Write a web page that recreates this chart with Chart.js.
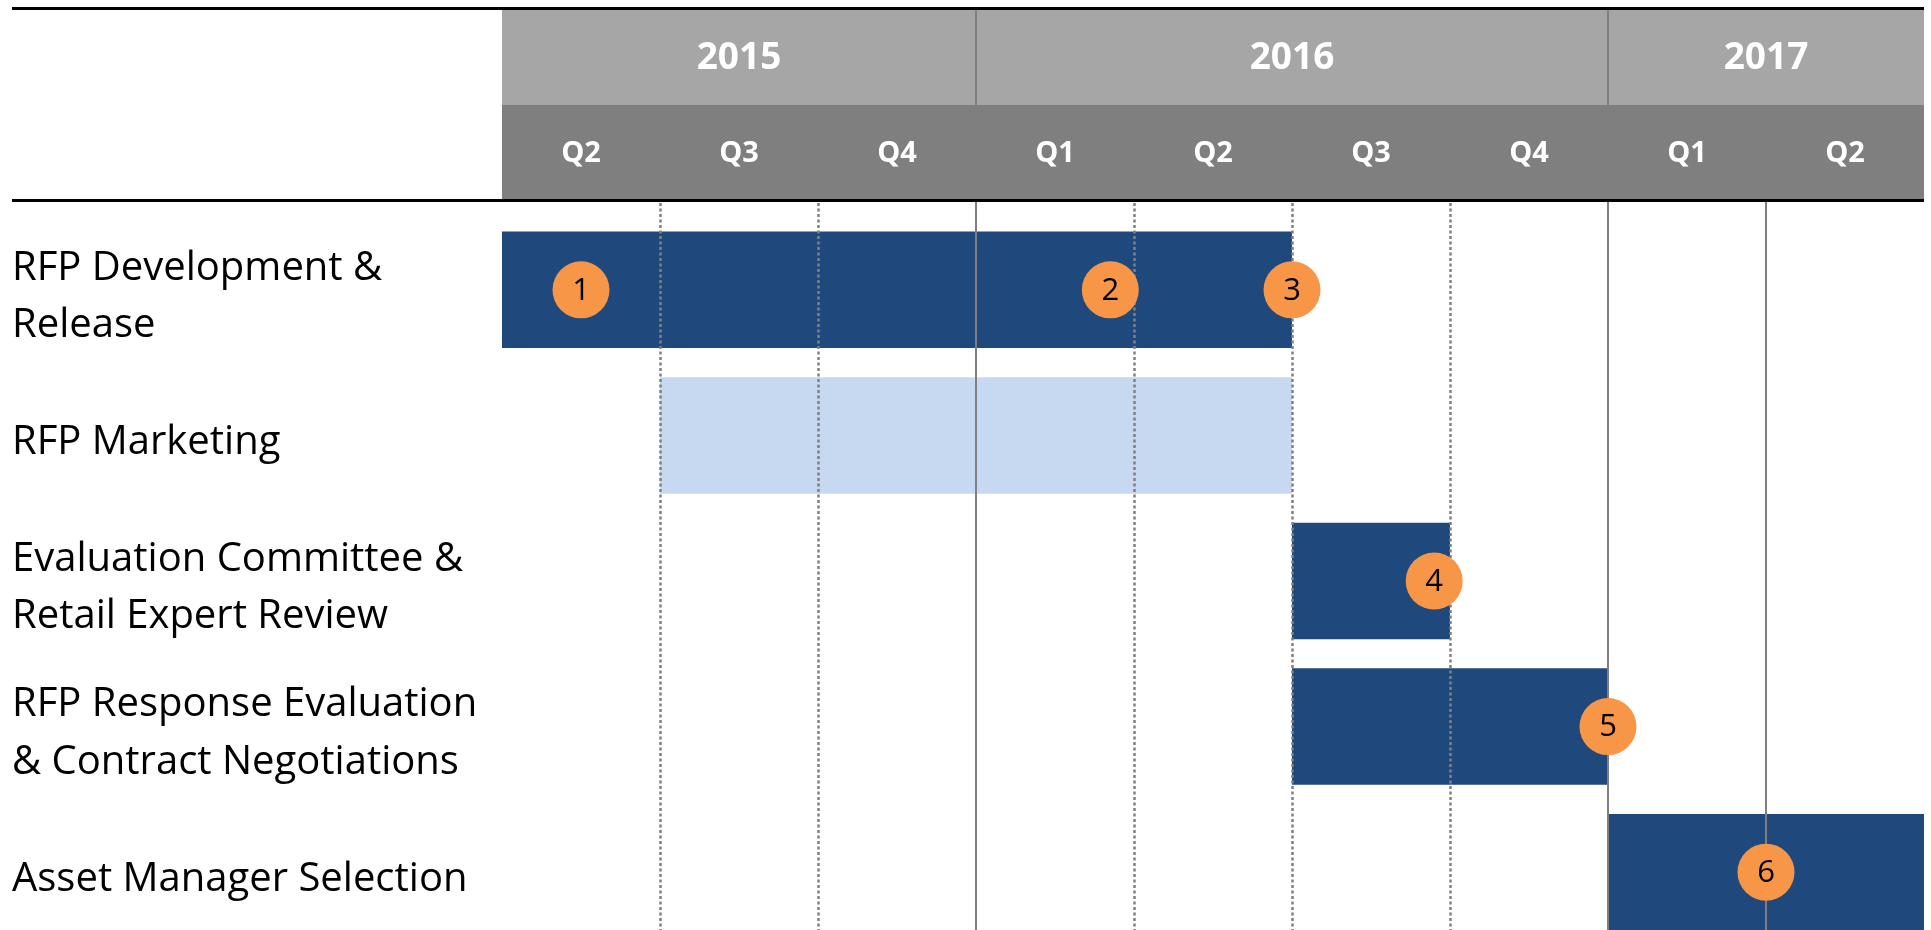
<html lang="en">
  <head>
    <meta charset="UTF-8" />
    <title>RFP timeline</title>
    <style>
      html, body { margin: 0; padding: 0; background: #fff; overflow: hidden; }
      canvas { display: block; }
    </style>
  </head>
  <body>
    <canvas id="myChart" width="1931" height="945"></canvas>
  </body>
  <script src="https://cdn.jsdelivr.net/npm/chart.js@4"></script>
  <script>
    // rows of the timeline
    const tasks = [
      ["RFP Development &", "Release"],
      ["RFP Marketing"],
      ["Evaluation Committee &", "Retail Expert Review"],
      ["RFP Response Evaluation", "& Contract Negotiations"],
      ["Asset Manager Selection"],
    ];
    // start / end in quarters counted from 2015 Q2
    const taskStart = [0, 1, 5, 5, 7];
    const taskEnd = [5, 5, 6, 7, 9];

    const quarters = ["Q2", "Q3", "Q4", "Q1", "Q2", "Q3", "Q4", "Q1", "Q2"];
    const years = ["2015", "2016", "2017"];
    const yearStart = [0, 3, 7];
    const yearEnd = [3, 7, 9];

    // numbered milestones
    const milestones = ["1", "2", "3", "4", "5", "6"];
    const milestoneAt = [0.5, 3.85, 5, 5.9, 7, 8];
    const milestoneRow = [0, 0, 0, 2, 3, 4];

    const solidLines = [3, 7, 8];
    const dottedLines = [1, 2, 4, 5, 6];

    const FONT = "'Open Sans', Lato, sans-serif";
    const DARK = "#1f497d";
    const LIGHT = "#c6d9f1";
    const ORANGE = "#f79646";

    const headerPlugin = {
      id: "header",
      beforeDraw(chart) {
        const ctx = chart.ctx;
        const x = chart.scales.x;
        const left = x.getPixelForValue(0);
        const right = x.getPixelForValue(quarters.length);
        ctx.save();
        ctx.fillStyle = "#a6a6a6";
        ctx.fillRect(left, 10, right - left, 95);
        ctx.fillStyle = "#7f7f7f";
        ctx.fillRect(left, 105, right - left, 94);

        // year separators
        ctx.strokeStyle = "#808080";
        ctx.lineWidth = 2;
        yearStart.slice(1).forEach(function (v) {
          const px = Math.round(x.getPixelForValue(v));
          ctx.beginPath();
          ctx.moveTo(px, 10);
          ctx.lineTo(px, 105);
          ctx.stroke();
        });

        ctx.fillStyle = "#fff";
        ctx.textAlign = "center";
        ctx.textBaseline = "middle";
        ctx.font = "bold 37px " + FONT;
        years.forEach(function (y, i) {
          const cx = (x.getPixelForValue(yearStart[i]) + x.getPixelForValue(yearEnd[i])) / 2;
          ctx.fillText(y, cx, 58);
        });
        ctx.font = "bold 29px " + FONT;
        quarters.forEach(function (q, i) {
          ctx.fillText(q, x.getPixelForValue(i + 0.5), 154);
        });

        // black rules
        ctx.strokeStyle = "#000";
        ctx.lineWidth = 3;
        ctx.beginPath();
        ctx.moveTo(12, 8.5);
        ctx.lineTo(right, 8.5);
        ctx.moveTo(12, 200.5);
        ctx.lineTo(right, 200.5);
        ctx.stroke();
        ctx.restore();
      },
      beforeDatasetDraw(chart, args) {
        // grid lines go on top of the bars, under the milestones
        if (args.index !== 1) return;
        const ctx = chart.ctx;
        const x = chart.scales.x;
        ctx.save();
        ctx.strokeStyle = "#808080";
        ctx.lineWidth = 2;
        solidLines.forEach(function (v) {
          const px = Math.round(x.getPixelForValue(v));
          ctx.beginPath();
          ctx.moveTo(px, 202);
          ctx.lineTo(px, chart.height);
          ctx.stroke();
        });
        ctx.lineWidth = 2.5;
        ctx.setLineDash([3, 2.5]);
        dottedLines.forEach(function (v) {
          const px = Math.round(x.getPixelForValue(v)) + 0.5;
          ctx.beginPath();
          ctx.moveTo(px, 203);
          ctx.lineTo(px, chart.height);
          ctx.stroke();
        });
        ctx.restore();
      },
      afterDatasetsDraw(chart) {
        const ctx = chart.ctx;
        const meta = chart.getDatasetMeta(1);
        ctx.save();
        ctx.fillStyle = "#000";
        ctx.textAlign = "center";
        ctx.textBaseline = "middle";
        ctx.font = "31px " + FONT;
        meta.data.forEach(function (pt, i) {
          ctx.fillText(milestones[i], pt.x, pt.y + 1);
        });
        ctx.restore();
      },
    };

    const ctx = document.getElementById("myChart").getContext("2d");
    const myChart = new Chart(ctx, {
      type: "bar",
      data: {
        labels: tasks,
        datasets: [
          {
            data: taskStart.map((s, i) => [s, taskEnd[i]]),
            backgroundColor: tasks.map((t, i) => (i === 1 ? LIGHT : DARK)),
            borderWidth: 0,
            barPercentage: 0.8,
            categoryPercentage: 1,
            order: 2,
          },
          {
            type: "line",
            data: milestones.map((m, i) => ({ x: milestoneAt[i], y: tasks[milestoneRow[i]] })),
            showLine: false,
            pointRadius: 28.5,
            pointHoverRadius: 28.5,
            pointBackgroundColor: ORANGE,
            pointBorderWidth: 0,
            order: 1,
          },
        ],
      },
      options: {
        indexAxis: "y",
        responsive: false,
        animation: false,
        events: [],
        layout: { autoPadding: false, padding: { left: 12, right: 7, top: 217, bottom: 0 } },
        plugins: { legend: { display: false }, tooltip: { enabled: false } },
        scales: {
          x: {
            type: "linear",
            min: 0,
            max: quarters.length,
            display: false,
          },
          y: {
            grid: { display: false },
            border: { display: false },
            ticks: {
              crossAlign: "far",
              labelOffset: 7,
              color: "#000",
              font: { family: FONT, size: 40, lineHeight: 1.43 },
            },
            afterFit(scale) {
              scale.width = 490;
              scale.paddingTop = 0;
              scale.paddingBottom = 0;
            },
          },
        },
      },
      plugins: [headerPlugin],
    });
  </script>
</html>
